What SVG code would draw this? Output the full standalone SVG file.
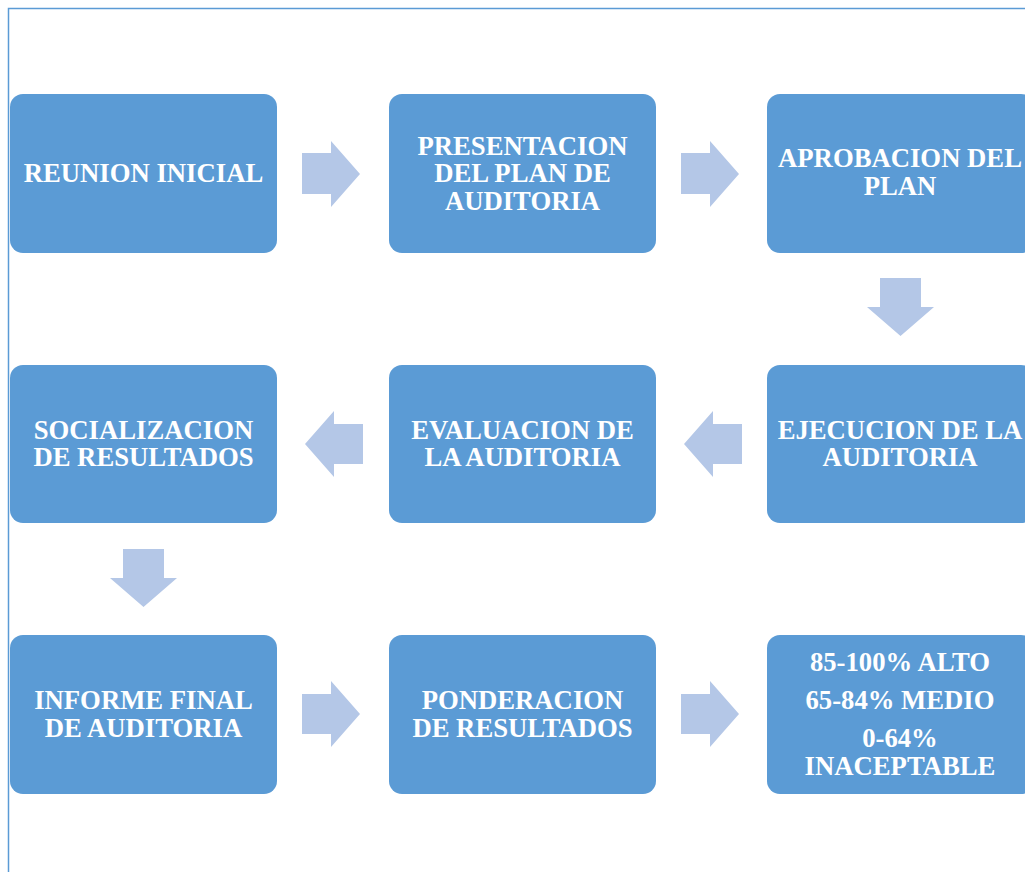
<svg xmlns="http://www.w3.org/2000/svg" width="1025" height="872" viewBox="0 0 1025 872">
<style>
.box{fill:#5B9BD5;}
.arr{fill:#B4C7E7;}
.t{font-family:"Liberation Serif",serif;font-weight:bold;font-size:26.7px;fill:#FFFFFF;text-anchor:middle;}
</style>
<rect width="1025" height="872" fill="#FFFFFF"/>
<path d="M8.5 872 V8.5 H1025" fill="none" stroke="#5B9BD5" stroke-width="1.5"/>
<g id="n1"><rect class="box" x="10" y="94" width="267" height="159" rx="13"/><text class="t" x="143.5" y="182">REUNION INICIAL</text></g>
<g id="n2"><rect class="box" x="389" y="94" width="267" height="159" rx="13"/><text class="t" x="522.5" y="155">PRESENTACION</text><text class="t" x="522.5" y="182">DEL PLAN DE</text><text class="t" x="522.5" y="210">AUDITORIA</text></g>
<g id="n3"><rect class="box" x="767" y="94" width="267" height="159" rx="13"/><text class="t" x="900" y="167">APROBACION DEL</text><text class="t" x="900" y="195">PLAN</text></g>
<g id="n4"><rect class="box" x="767" y="365" width="267" height="158" rx="13"/><text class="t" x="900" y="439">EJECUCION DE LA</text><text class="t" x="900" y="466">AUDITORIA</text></g>
<g id="n5"><rect class="box" x="389" y="365" width="267" height="158" rx="13"/><text class="t" x="522.5" y="439">EVALUACION DE</text><text class="t" x="522.5" y="466">LA AUDITORIA</text></g>
<g id="n6"><rect class="box" x="10" y="365" width="267" height="158" rx="13"/><text class="t" x="143.5" y="439">SOCIALIZACION</text><text class="t" x="143.5" y="466">DE RESULTADOS</text></g>
<g id="n7"><rect class="box" x="10" y="635" width="267" height="159" rx="13"/><text class="t" x="143.5" y="709">INFORME FINAL</text><text class="t" x="143.5" y="737">DE AUDITORIA</text></g>
<g id="n8"><rect class="box" x="389" y="635" width="267" height="159" rx="13"/><text class="t" x="522.5" y="709">PONDERACION</text><text class="t" x="522.5" y="737">DE RESULTADOS</text></g>
<g id="n9"><rect class="box" x="767" y="635" width="267" height="159" rx="13"/><text class="t" x="900" y="671">85-100% ALTO</text><text class="t" x="900" y="709">65-84% MEDIO</text><text class="t" x="900" y="747">0-64%</text><text class="t" x="900" y="775">INACEPTABLE</text></g>
<g id="connectors">
<polygon class="arr" points="302,153 331,153 331,141 360,174 331,207 331,194 302,194"/>
<polygon class="arr" points="681,153 710,153 710,141 739,174 710,207 710,194 681,194"/>
<polygon class="arr" points="880,278 921,278 921,307 934,307 900.5,336 867,307 880,307"/>
<polygon class="arr" points="742,424 713,424 713,411 684,444 713,477 713,464 742,464"/>
<polygon class="arr" points="363,424 334,424 334,411 305,444 334,477 334,464 363,464"/>
<polygon class="arr" points="123,549 164,549 164,578 177,578 143.5,607 110,578 123,578"/>
<polygon class="arr" points="302,694 331,694 331,681 360,714 331,747 331,734 302,734"/>
<polygon class="arr" points="681,694 710,694 710,681 739,714 710,747 710,734 681,734"/>
</g>
</svg>
